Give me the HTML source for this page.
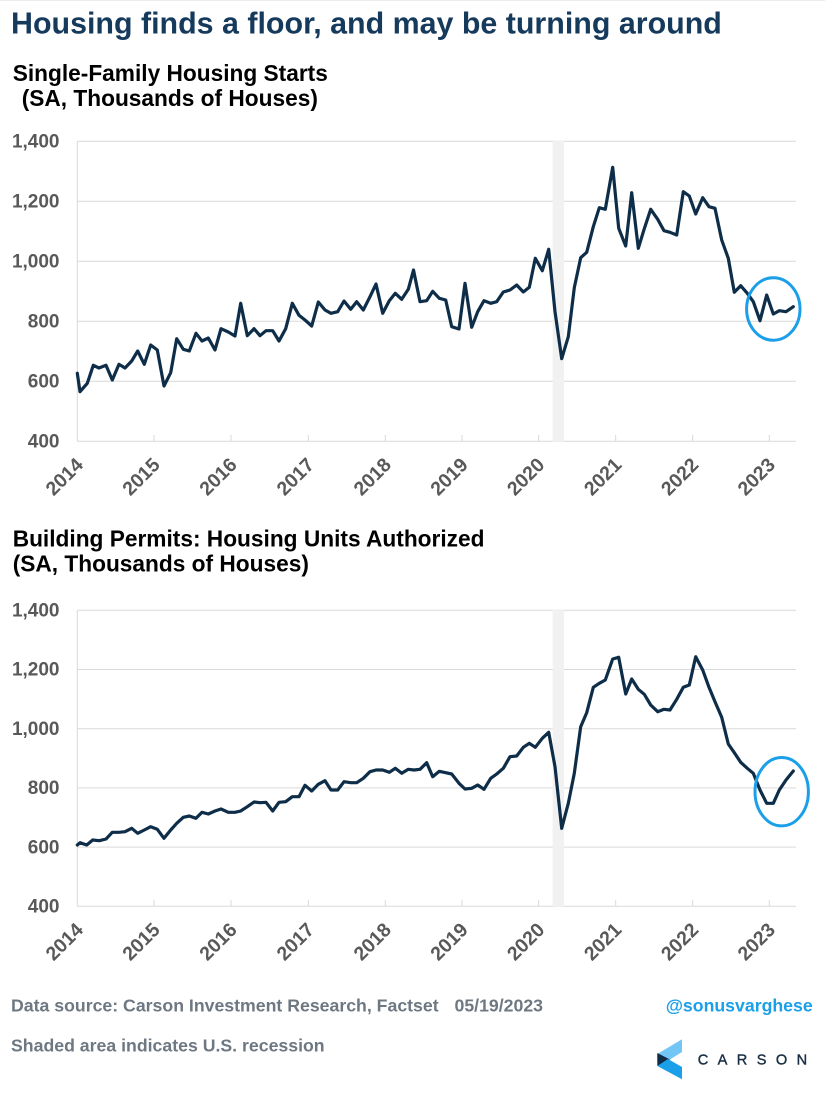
<!DOCTYPE html>
<html><head><meta charset="utf-8"><style>
html,body{margin:0;padding:0;background:#fff;}
svg{display:block;}
text{font-family:"Liberation Sans",Arial,sans-serif;}
</style></head><body>
<svg width="825" height="1100" viewBox="0 0 825 1100" xmlns="http://www.w3.org/2000/svg">
<rect x="0" y="0" width="825" height="1100" fill="#fff"/>
<line x1="0" y1="0.5" x2="825" y2="0.5" stroke="#ececec" stroke-width="1"/>
<text x="11" y="33.3" font-size="30.4" font-weight="bold" fill="#163a5c">Housing finds a floor, and may be turning around</text>
<text x="12.7" y="81" font-size="22.7" font-weight="bold" fill="#000">Single-Family Housing Starts</text>
<text x="21.7" y="106" font-size="22.7" font-weight="bold" fill="#000">(SA, Thousands of Houses)</text>

<!-- Top chart -->
<g stroke="#d9d9d9" stroke-width="1">
<line x1="77.3" y1="141.3" x2="796" y2="141.3"/>
<line x1="77.3" y1="201.3" x2="796" y2="201.3"/>
<line x1="77.3" y1="261.3" x2="796" y2="261.3"/>
<line x1="77.3" y1="321.3" x2="796" y2="321.3"/>
<line x1="77.3" y1="381.3" x2="796" y2="381.3"/>
<line x1="77.3" y1="441.3" x2="796" y2="441.3"/>
<line x1="77.3" y1="141.3" x2="77.3" y2="441.3"/>
<line x1="154" y1="435" x2="154" y2="441"/>
<line x1="231" y1="435" x2="231" y2="441"/>
<line x1="308.3" y1="435" x2="308.3" y2="441"/>
<line x1="385.3" y1="435" x2="385.3" y2="441"/>
<line x1="462" y1="435" x2="462" y2="441"/>
<line x1="538.7" y1="435" x2="538.7" y2="441"/>
<line x1="615.7" y1="435" x2="615.7" y2="441"/>
<line x1="692.7" y1="435" x2="692.7" y2="441"/>
<line x1="769.3" y1="435" x2="769.3" y2="441"/>
</g>
<rect x="552.7" y="141" width="11.3" height="300.5" fill="#f1f1f1"/>
<g font-size="19" font-weight="bold" fill="#595959" text-anchor="end">
<text x="59.5" y="147.5">1,400</text>
<text x="59.5" y="207.5">1,200</text>
<text x="59.5" y="267.5">1,000</text>
<text x="59.5" y="327.5">800</text>
<text x="59.5" y="387.5">600</text>
<text x="59.5" y="447.5">400</text>
</g>
<g font-size="19.5" font-weight="bold" fill="#595959" text-anchor="end">
<text transform="translate(84.3,466) rotate(-45)">2014</text>
<text transform="translate(161,466) rotate(-45)">2015</text>
<text transform="translate(238,466) rotate(-45)">2016</text>
<text transform="translate(315.3,466) rotate(-45)">2017</text>
<text transform="translate(392.3,466) rotate(-45)">2018</text>
<text transform="translate(469,466) rotate(-45)">2019</text>
<text transform="translate(545.7,466) rotate(-45)">2020</text>
<text transform="translate(622.7,466) rotate(-45)">2021</text>
<text transform="translate(699.7,466) rotate(-45)">2022</text>
<text transform="translate(776.3,466) rotate(-45)">2023</text>
</g>
<polyline fill="none" stroke="#0e2d48" stroke-width="3.2" stroke-linejoin="round" stroke-linecap="round" points="77.3,373.3 80,391.7 87.3,383.3 93.3,365.3 99,368 106,365.3 112.3,380 119,364.3 125,368 131.7,361 137.7,351 144.3,364.3 150.7,345 157.3,350 164,386 170.7,372.7 176.7,338.7 183.3,349.3 189.3,351 196,333.3 202,341 208.3,338 215,350 221,328.7 228.3,332 235,336 240.7,303.3 247.3,335.7 254,328.7 260,335.7 266,330.7 272.7,330.7 279,341 285.7,328.7 292.3,303.3 299,315.3 305,320 311.7,326 318.3,302 325,310 331,313.3 337.7,311.7 344,301 350.7,309.3 356.7,301.7 363.3,310 370,296.7 376,284 382.7,313.3 389.3,300.7 395.3,293.3 401.7,299.3 408.3,289.3 413.5,270 420,301.7 426.7,300.7 432.7,291.3 439.3,298.3 445.7,300 451.7,326.7 459,329 465,283.3 471.7,327.3 477.7,311.7 484,300.7 490.7,303.3 496.7,301.7 503.3,292 510,290 516.7,285 523.3,292 529.3,287.3 535.3,258.3 542.3,270.7 548.7,249.3 555,311.7 561.7,358.7 568.3,336.7 574.3,287.7 580.7,257.7 586.7,252.3 593.3,226.7 599.3,207.7 605.3,209.3 612.7,167.3 618.7,228.3 625.7,246 631.7,192.7 638.3,248.3 644.3,228.7 650.7,209.3 657.7,219.3 664,230.7 670,232.3 676.7,235 683.3,191.7 689.3,196 695.7,214 702.7,197.7 709,206.7 715,208.3 721.7,240 728.3,258.3 734.3,292.3 740.7,285.7 747.3,293.3 753.3,301.7 760,320.7 766.7,295 773.3,314 779.3,310.7 786,311.7 793.3,306.7"/>
<ellipse cx="773.3" cy="309" rx="26.7" ry="31.2" fill="none" stroke="#1a9fe8" stroke-width="3"/>

<!-- Bottom chart titles -->
<text x="12.7" y="546.7" font-size="22.7" font-weight="bold" fill="#000">Building Permits: Housing Units Authorized</text>
<text x="12.7" y="571.7" font-size="22.7" font-weight="bold" fill="#000">(SA, Thousands of Houses)</text>

<g stroke="#d9d9d9" stroke-width="1">
<line x1="77.3" y1="610.3" x2="796" y2="610.3"/>
<line x1="77.3" y1="669.5" x2="796" y2="669.5"/>
<line x1="77.3" y1="728.7" x2="796" y2="728.7"/>
<line x1="77.3" y1="787.9" x2="796" y2="787.9"/>
<line x1="77.3" y1="847.1" x2="796" y2="847.1"/>
<line x1="77.3" y1="906.3" x2="796" y2="906.3"/>
<line x1="77.3" y1="610.3" x2="77.3" y2="906.3"/>
<line x1="154" y1="900" x2="154" y2="906"/>
<line x1="231" y1="900" x2="231" y2="906"/>
<line x1="308.3" y1="900" x2="308.3" y2="906"/>
<line x1="385.3" y1="900" x2="385.3" y2="906"/>
<line x1="462" y1="900" x2="462" y2="906"/>
<line x1="538.7" y1="900" x2="538.7" y2="906"/>
<line x1="615.7" y1="900" x2="615.7" y2="906"/>
<line x1="692.7" y1="900" x2="692.7" y2="906"/>
<line x1="769.3" y1="900" x2="769.3" y2="906"/>
</g>
<rect x="552.7" y="610" width="11.3" height="296.5" fill="#f1f1f1"/>
<g font-size="19" font-weight="bold" fill="#595959" text-anchor="end">
<text x="59.5" y="616.5">1,400</text>
<text x="59.5" y="675.7">1,200</text>
<text x="59.5" y="734.9">1,000</text>
<text x="59.5" y="794.1">800</text>
<text x="59.5" y="853.3">600</text>
<text x="59.5" y="912.5">400</text>
</g>
<g font-size="19.5" font-weight="bold" fill="#595959" text-anchor="end">
<text transform="translate(84.3,931) rotate(-45)">2014</text>
<text transform="translate(161,931) rotate(-45)">2015</text>
<text transform="translate(238,931) rotate(-45)">2016</text>
<text transform="translate(315.3,931) rotate(-45)">2017</text>
<text transform="translate(392.3,931) rotate(-45)">2018</text>
<text transform="translate(469,931) rotate(-45)">2019</text>
<text transform="translate(545.7,931) rotate(-45)">2020</text>
<text transform="translate(622.7,931) rotate(-45)">2021</text>
<text transform="translate(699.7,931) rotate(-45)">2022</text>
<text transform="translate(776.3,931) rotate(-45)">2023</text>
</g>
<polyline fill="none" stroke="#0e2d48" stroke-width="3.2" stroke-linejoin="round" stroke-linecap="round" points="77.3,845 80,842.7 86.7,845 92.7,840 99.3,840.7 106,839 112.3,832.3 119,832.3 125,831.7 131.7,828.3 137.7,833.3 144.3,830 150.7,826.7 157.3,829.3 164,838.3 170.7,830 176.7,823.3 183.3,817.3 189.3,816 196,818.3 202,812.3 208.3,814 215,811 221,809 228.3,812.3 235,812.3 240.7,811 247.3,806.7 254,802 260,802.7 266,802.3 272.7,811 279,802.3 285.7,801.7 292.3,796.7 299,796.7 305,785.3 311.7,791 318.3,784.3 325,780.7 331,790 337.7,790 344,781.7 350.7,782.7 356.7,782.7 363.3,778.3 370,771.7 376,770 382.7,770 389.3,772.3 395.3,768.3 401.7,773.3 408.3,769.3 414,770 420,769.3 426.7,762.7 432.7,776.7 439.3,771.3 445.7,772.7 451.7,774 459,783.3 465,789 471.7,788.3 477.7,785 484,789.3 490.7,778.3 496.7,774 503.3,768.3 510,756.7 516.7,756 523.3,747.3 529.3,743.3 535.3,747.3 542.3,738.3 548.7,732.3 555,766.7 561.7,828.3 568.3,803.3 574.3,773.3 580.7,726.7 586.7,712.7 593.3,687.3 599.3,683.3 605.3,680 612.7,659 618.7,657.3 625.7,694 631.7,679 638.3,689.3 644.3,694.3 650.7,705 657.7,711.7 664,709.3 670,710 676.7,699.3 683.3,687.3 689.3,685 695.7,656.7 702.7,670 709,687.3 715,701.7 721.7,717.3 728.3,744 734.3,752.7 740.7,762.3 747.3,768.3 753.3,773.3 760,790 766.7,803.3 773.3,803.3 779.3,790 786,780 793.3,771"/>
<ellipse cx="781.7" cy="791.7" rx="26.7" ry="34.2" fill="none" stroke="#1a9fe8" stroke-width="3"/>

<!-- Footer -->
<text x="11" y="1011.5" font-size="17.7" font-weight="bold" fill="#6e7882">Data source: Carson Investment Research, Factset</text>
<text x="454.5" y="1011.5" font-size="17.7" font-weight="bold" fill="#6e7882">05/19/2023</text>
<text x="11" y="1051.7" font-size="17.7" font-weight="bold" fill="#6e7882">Shaded area indicates U.S. recession</text>
<text x="665.7" y="1011.5" font-size="17.7" font-weight="bold" fill="#1a9fe8">@sonusvarghese</text>

<!-- Carson logo -->
<polygon points="682,1039.3 682,1052 669,1060 657.3,1060 657.3,1054" fill="#72c6f6"/>
<polygon points="657.3,1053 670,1059.5 657.3,1066" fill="#102b45"/>
<polygon points="657.3,1066 668,1059 682,1067 682,1079.3" fill="#1a9fe8"/>
<text x="697.7" y="1064.3" font-size="14.6" fill="#1a2f45" stroke="#1a2f45" stroke-width="0.4" letter-spacing="9.4">CARSON</text>
</svg>
</body></html>
